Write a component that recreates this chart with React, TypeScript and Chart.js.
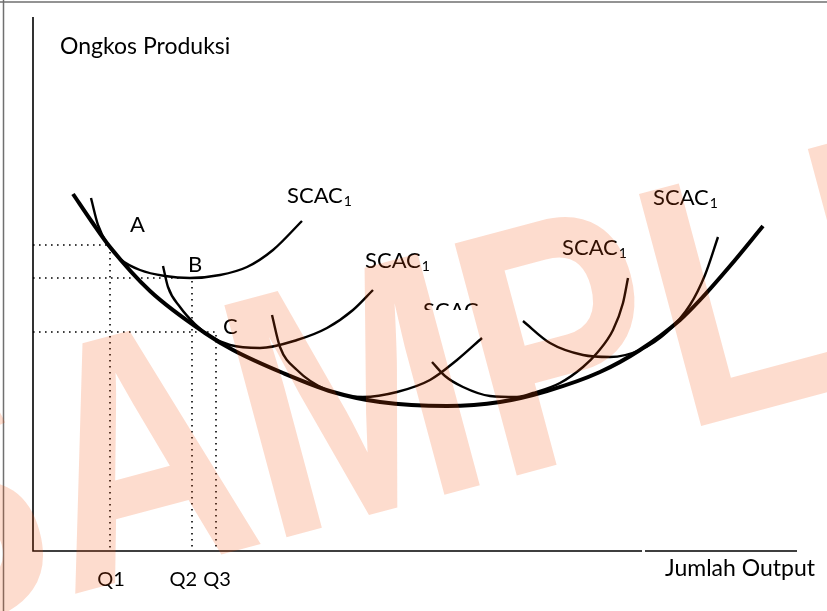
import React, { useEffect, useRef } from "react";
import { Chart, registerables } from "chart.js";

Chart.register(...registerables);

// ---- Data (x = jumlah output, y = ongkos produksi; arbitrary units) ----
const lacX = [40, 59, 77, 117, 172, 200, 250, 300, 347, 414, 467, 514, 567, 607, 647, 667, 697, 730];
const lacY = [357, 329, 304, 260, 218, 201, 178, 159, 149, 145, 149, 160, 179, 201, 231, 251, 285, 325];

const scac1X = [58, 65, 75, 87, 107, 132, 157, 187, 214, 240, 269];
const scac1Y = [353, 326, 306, 292, 281, 275, 273, 276, 284, 301, 330];

const scac2X = [130, 135, 147, 162, 177, 197, 227, 264, 294, 320, 340];
const scac2Y = [285, 264, 244, 227, 215, 206, 203, 211, 223, 241, 261];

const scac3X = [239, 247, 264, 294, 330, 364, 397, 424, 449];
const scac3Y = [236, 204, 181, 161, 154, 159, 171, 191, 213];

const scac4X = [399, 412, 430, 457, 484, 500, 527, 550, 564, 580, 590, 595];
const scac4Y = [189, 175, 164, 155, 154, 158, 168, 184, 198, 221, 248, 273];

const scac5X = [490, 517, 550, 577, 607, 634, 657, 672, 685];
const scac5Y = [230, 208, 196, 194, 201, 219, 246, 276, 314];

const qLabels = ["Q1", "Q2", "Q3"];
const qValues = [77, 159, 183];
const pointLabels = ["A", "B", "C"];
const pointCosts = [306, 273, 219];

const yAxisTitle = "Ongkos Produksi";
const xAxisTitle = "Jumlah Output";
const curveName = "SCAC";
const curveSub = "1";
const watermarkText = "SAMPLE";

// label anchors (data units) for curve names and point letters
const curveLabelX = [254, 332, 390, 529, 620];
const curveLabelY = [348, 283, 233, 296, 346];
const curveLabelClipped = [false, false, true, false, false];
const pointLabelX = [97, 155, 190];
const pointLabelY = [319, 279, 217];

const FONT = "Lato, 'Open Sans', sans-serif";

function toPts(xs: number[], ys: number[]) {
  return xs.map((x, i) => ({ x, y: ys[i] }));
}

const diagramPlugin = {
  id: "diagram",
  beforeDatasetsDraw(chart: any) {
    const { ctx, chartArea: a } = chart;
    ctx.save();
    ctx.strokeStyle = "#707070";
    ctx.lineWidth = 1.5;
    ctx.beginPath();
    ctx.moveTo(0, 2);
    ctx.lineTo(chart.width, 2);
    ctx.moveTo(3.5, 0);
    ctx.lineTo(3.5, chart.height);
    ctx.stroke();

    ctx.strokeStyle = "#000";
    ctx.lineWidth = 1.6;
    ctx.beginPath();
    ctx.moveTo(a.left, a.top);
    ctx.lineTo(a.left, a.bottom);
    ctx.lineTo(a.left + 609, a.bottom);
    ctx.moveTo(a.left + 612, a.bottom);
    ctx.lineTo(a.right, a.bottom);
    ctx.stroke();
    ctx.restore();
  },
  afterDatasetsDraw(chart: any) {
    const { ctx, chartArea: a } = chart;
    const xs = chart.scales.x;
    const ys = chart.scales.y;
    ctx.save();
    ctx.fillStyle = "#000";
    ctx.textBaseline = "alphabetic";

    // axis titles
    ctx.font = `23px ${FONT}`;
    ctx.textAlign = "left";
    ctx.fillText(yAxisTitle, a.left + 27, a.top + 37);
    ctx.textAlign = "right";
    ctx.fillText(xAxisTitle, a.right + 18, a.bottom + 25);

    // Q tick labels
    ctx.font = `20px ${FONT}`;
    qLabels.forEach((q, i) => {
      const px = xs.getPixelForValue(qValues[i]);
      if (i === 1) {
        ctx.textAlign = "right";
        ctx.fillText(q, px + 5, a.bottom + 35);
      } else {
        ctx.textAlign = "center";
        ctx.fillText(q, px + 1, a.bottom + 35);
      }
    });

    // point letters
    ctx.font = `22px ${FONT}`;
    ctx.textAlign = "left";
    pointLabels.forEach((l, i) => {
      ctx.fillText(l, xs.getPixelForValue(pointLabelX[i]), ys.getPixelForValue(pointLabelY[i]));
    });

    // curve names
    curveLabelX.forEach((lx, i) => {
      const px = xs.getPixelForValue(lx);
      const py = ys.getPixelForValue(curveLabelY[i]);
      ctx.save();
      if (curveLabelClipped[i]) {
        ctx.beginPath();
        ctx.rect(0, 0, chart.width, py - 8);
        ctx.clip();
      }
      ctx.font = `22px ${FONT}`;
      ctx.textAlign = "left";
      ctx.fillText(curveName, px, py);
      if (!curveLabelClipped[i]) {
        const w = ctx.measureText(curveName).width;
        ctx.font = `14px ${FONT}`;
        ctx.fillText(curveSub, px + w + 1, py + 3);
      }
      ctx.restore();
    });
    ctx.restore();
  },
  afterDraw(chart: any) {
    const { ctx } = chart;
    ctx.save();
    ctx.translate(-116, 645);
    ctx.rotate((-15 * Math.PI) / 180);
    ctx.scale(0.82, 1);
    ctx.font = "bold 349px 'Liberation Sans', Arial, sans-serif";
    ctx.fillStyle = "rgba(245, 80, 10, 0.2)";
    ctx.textAlign = "left";
    ctx.textBaseline = "alphabetic";
    ctx.fillText(watermarkText, 0, 0);
    ctx.restore();
  },
};

export default function App() {
  const ref = useRef<HTMLCanvasElement | null>(null);
  useEffect(() => {
    if (!ref.current) return;
    const thin = { borderColor: "#000", borderWidth: 2.4, cubicInterpolationMode: "monotone" };
    const dotted = (i: number) => ({
      data: [
        { x: 0, y: pointCosts[i] },
        { x: qValues[i], y: pointCosts[i] },
        { x: qValues[i], y: 0 },
      ],
      borderColor: "#000",
      borderWidth: 1.6,
      borderDash: [1.6, 4.4],
      tension: 0,
    });
    const chart = new Chart(ref.current, {
      type: "scatter",
      data: {
        datasets: [
          dotted(0),
          dotted(1),
          dotted(2),
          { data: toPts(scac1X, scac1Y), ...thin },
          { data: toPts(scac2X, scac2Y), ...thin },
          { data: toPts(scac3X, scac3Y), ...thin },
          { data: toPts(scac4X, scac4Y), ...thin },
          { data: toPts(scac5X, scac5Y), ...thin },
          { data: toPts(lacX, lacY), borderColor: "#000", borderWidth: 4, cubicInterpolationMode: "monotone" },
        ] as any,
      },
      options: {
        animation: false,
        responsive: false,
        devicePixelRatio: 1,
        showLine: true,
        elements: { point: { radius: 0, hoverRadius: 0 } },
        layout: { padding: { left: 33, top: 17, right: 30, bottom: 60 } },
        scales: {
          x: { type: "linear", min: 0, max: 764, display: false },
          y: { type: "linear", min: 0, max: 534, display: false },
        },
        plugins: { legend: { display: false }, tooltip: { enabled: false } },
        events: [],
      } as any,
      plugins: [diagramPlugin],
    });
    return () => chart.destroy();
  }, []);
  return (
    <div style={{ position: "fixed", left: 0, top: 0, width: 827, height: 611, background: "#fff" }}>
      <canvas ref={ref} width={827} height={611} style={{ display: "block" }} />
    </div>
  );
}
